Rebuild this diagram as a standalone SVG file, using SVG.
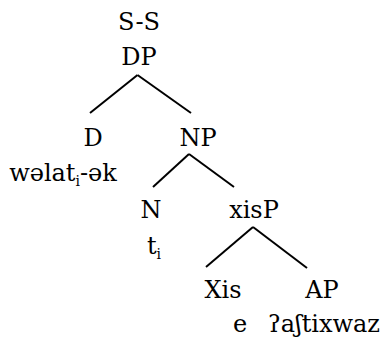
<svg xmlns="http://www.w3.org/2000/svg" width="387" height="344" viewBox="0 0 387 344">
<rect width="387" height="344" fill="#fff"/>
<g id="edges" stroke="#000" stroke-width="2" fill="none">
<line x1="137.5" y1="75" x2="90" y2="113"/>
<line x1="137.5" y1="75" x2="191" y2="113"/>
<line x1="189" y1="154" x2="153" y2="187"/>
<line x1="189" y1="154" x2="234" y2="187"/>
<line x1="253" y1="227" x2="206" y2="267"/>
<line x1="253" y1="227" x2="307" y2="268"/>
</g>
<g font-family="DejaVu Serif, Liberation Serif, serif" font-size="24" fill="#000" text-anchor="middle">
<g id="n-dp"><text x="139" y="30">S-S</text><text x="139" y="65">DP</text></g>
<g id="n-d"><text x="93" y="146">D</text><text x="63" y="181">wəlat<tspan font-size="14" dy="5">i</tspan><tspan dy="-5">-ək</tspan></text></g>
<g id="n-np"><text x="198" y="146">NP</text></g>
<g id="n-n"><text x="151" y="218">N</text><text x="154" y="254">t<tspan font-size="14" dy="5">i</tspan></text></g>
<g id="n-xisp"><text x="254" y="218">xisP</text></g>
<g id="n-xis"><text x="223" y="298">Xis</text><text x="240" y="332">e</text></g>
<g id="n-ap"><text x="322" y="298">AP</text><text x="324" y="332">ʔaʃtixwaz</text></g>
</g>
</svg>
